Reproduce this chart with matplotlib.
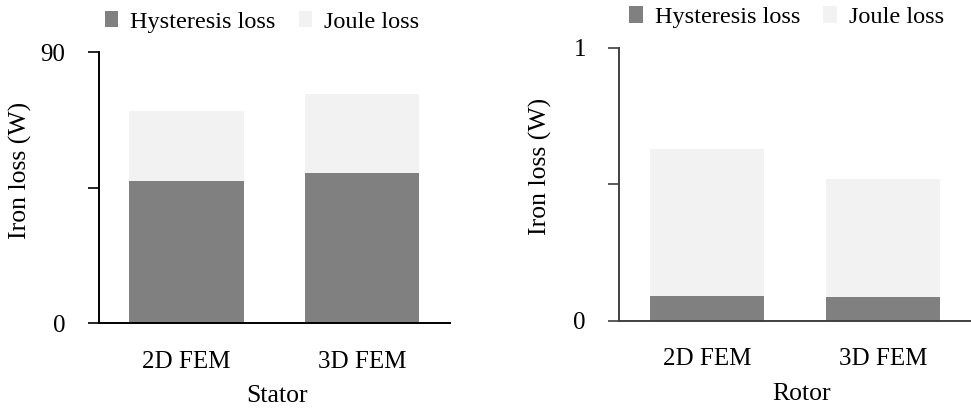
#Iron loss comparison - stator and rotor, 2D vs 3D FEM
import numpy as np
import matplotlib.pyplot as plt

#Data
categories = ['2D FEM', '3D FEM']
stator_hysteresis = [47.4, 49.8]
stator_joule = [23.1, 26.4]
rotor_hysteresis = [0.090, 0.086]
rotor_joule = [0.539, 0.433]

#Style
plt.rcParams['font.family'] = ['Liberation Serif', 'DejaVu Serif']
hyst_color = '#808080'
joule_color = '#f2f2f2'

fig = plt.figure(figsize=(9.71, 4.09), dpi=100)

#Function that draws one stacked bar panel
def draw_panel(rect, hyst, joule, ymax, ytick_labels, xlabel, spine_color, leg_x, leg_y, xlab_x):
    ax = fig.add_axes(rect)
    x = np.arange(len(categories))
    ax.bar(x, hyst, width=0.65, color=hyst_color, label='Hysteresis loss')
    ax.bar(x, joule, width=0.65, bottom=hyst, color=joule_color, label='Joule loss')
    ax.set_xlim(-0.5, 1.5)
    ax.set_ylim(0, ymax)
    ax.set_yticks([0, ymax / 2, ymax])
    ax.set_yticklabels(ytick_labels, fontsize=18)
    ax.set_xticks(x)
    ax.set_xticklabels(categories, fontsize=18)
    ax.tick_params(axis='x', length=0, pad=20)
    ax.tick_params(axis='y', length=8, width=1.2, pad=16, color=spine_color)
    for s in ['top', 'right']:
        ax.spines[s].set_visible(False)
    for s in ['left', 'bottom']:
        ax.spines[s].set_color(spine_color)
        ax.spines[s].set_linewidth(1.4)
    #Axis labels placed by hand to match the original layout
    ax.set_ylabel('Iron loss (W)', fontsize=18.5)
    ax.yaxis.set_label_coords(-0.191, 0.565)
    ax.set_xlabel(xlabel, fontsize=18.5)
    ax.xaxis.set_label_coords(xlab_x, -0.228)
    fig.legend(*ax.get_legend_handles_labels(), loc='center', bbox_to_anchor=(leg_x, leg_y),
               ncol=2, frameon=False, fontsize=17.5, handlelength=0.55, handleheight=0.65,
               handletextpad=0.5, columnspacing=0.95, borderaxespad=0)
    return ax

#Stator panel
draw_panel([0.1016, 0.2095, 0.3618, 0.6626], stator_hysteresis, stator_joule, 90,
           ['0', '', '90'], 'Stator', 'black', 0.27, 0.947, 0.507)

#Rotor panel
draw_panel([0.6378, 0.2159, 0.3622, 0.6675], rotor_hysteresis, rotor_joule, 1,
           ['0', '', '1'], 'Rotor', '#404040', 0.81, 0.958, 0.519)

fig.savefig('out.png', dpi=100)
